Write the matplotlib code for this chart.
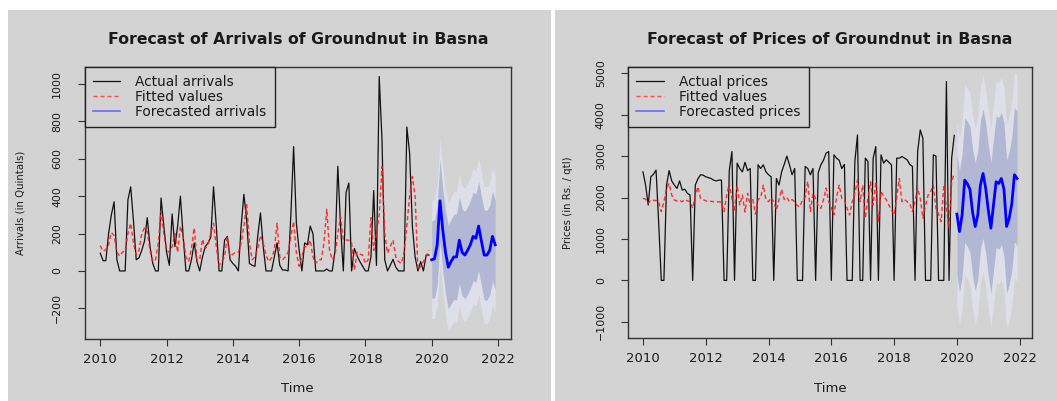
import numpy as np
import matplotlib
matplotlib.use("Agg")
import matplotlib.pyplot as plt
from matplotlib.lines import Line2D
from matplotlib.patches import Rectangle

# ---------------- data ----------------
years = [2010, 2012, 2014, 2016, 2018, 2020, 2022]

arr_actual = [95, 55, 55, 200, 300, 370, 60, 0, 0, 0, 380, 450,
              270, 60, 70, 110, 160, 285, 130, 40, 0, 0, 390, 240,
              100, 30, 305, 130, 240, 400, 185, 0, 0, 60, 150, 50,
              0, 75, 130, 150, 180, 450, 240, 0, 0, 165, 185, 60,
              40, 25, 0, 240, 410, 270, 40, 30, 25, 185, 310, 130,
              0, 0, 0, 75, 150, 30, 5, 5, 0, 300, 665, 255,
              110, 0, 150, 140, 240, 200, 0, 0, 0, 0, 10, 0,
              0, 110, 560, 240, 0, 420, 470, 0, 120, 80, 50, 25,
              0, 0, 75, 430, 30, 1040, 700, 60, 0, 30, 62, 20,
              0, 0, 0, 770, 630, 240, 75, 0, 50, 0, 85, 85]
arr_fitted = [135, 105, 115, 140, 205, 190, 100, 80, 100, 110, 200, 255,
              150, 85, 110, 200, 230, 210, 110, 50, 60, 150, 320, 200,
              110, 100, 130, 200, 100, 240, 180, 75, 50, 120, 230, 60,
              60, 170, 120, 140, 200, 255, 130, 30, 50, 75, 185, 75,
              90, 100, 100, 150, 240, 355, 150, 60, 75, 120, 190, 150,
              85, 50, 70, 110, 255, 75, 60, 75, 100, 185, 265, 95,
              25, 80, 130, 130, 165, 75, 40, 60, 60, 150, 330, 110,
              60, 85, 200, 290, 165, 165, 165, 150, 5, 100, 90, 85,
              40, 60, 285, 110, 200, 300, 560, 200, 95, 130, 165, 75,
              50, 40, 100, 240, 400, 505, 400, 5, 25, 50, 80, 110]
arr_forecast = [60, 65, 140, 375, 220, 100, 20, 50, 75, 75, 165, 100,
                85, 110, 140, 185, 175, 240, 160, 85, 85, 110, 185, 140]
arr_hw80 = [205, 210, 215, 218, 220, 222, 224, 226, 228, 230, 231, 232,
            233, 234, 235, 236, 237, 238, 239, 240, 240, 240, 240, 240]
arr_hw95 = [314, 321, 329, 334, 337, 340, 343, 346, 349, 352, 353, 355,
            357, 358, 360, 361, 363, 364, 366, 367, 367, 367, 367, 367]

price_actual = [2620, 2300, 1820, 2500, 2560, 2660, 1400, 0, 0, 2300, 2650, 2400,
                2300, 2220, 2400, 2180, 2200, 2100, 2060, 0, 2300, 2450, 2550, 2540,
                2500, 2480, 2460, 2420, 2400, 2420, 2420, 0, 0, 2650, 3110, 0,
                2830, 2700, 2620, 2850, 2650, 2700, 0, 0, 2790, 2700, 2790, 2620,
                2550, 2500, 0, 2460, 2300, 2620, 2800, 3000, 2790, 2550, 2700, 0,
                0, 0, 2750, 2700, 2550, 2700, 0, 2600, 2790, 2900, 3070, 3110,
                0, 3030, 2950, 2900, 2700, 2800, 0, 0, 0, 2870, 3510, 0,
                0, 2950, 2870, 0, 2950, 3230, 0, 3030, 2830, 2910, 2850, 2790,
                0, 2950, 2950, 2990, 2950, 2910, 2800, 2750, 0, 3110, 3630, 3430,
                0, 0, 0, 3030, 3000, 0, 0, 0, 4800, 0, 2950, 3500]
price_fitted = [1980, 1960, 1860, 1940, 1930, 1930, 1900, 1660, 1900, 2220, 2340, 2060,
                1940, 1920, 1930, 1900, 1950, 1920, 1900, 1740, 2030, 2260, 1980, 1950,
                1920, 1900, 1910, 1900, 1890, 1900, 1880, 1660, 2060, 2340, 1980, 1700,
                2300, 1820, 2060, 1650, 2100, 1800, 1950, 1600, 1950, 2000, 2300, 1950,
                1900, 2000, 1900, 1700, 1950, 2200, 1950, 2000, 1900, 1950, 1900, 1800,
                1780, 1950, 2000, 2390, 1660, 2100, 1980, 1800, 1740, 1950, 2230, 1900,
                1750, 1580, 2000, 2300, 1980, 1950, 1740, 1580, 1900, 2100, 2420, 1900,
                2300, 1500, 2000, 2380, 1820, 2380, 1420, 2150, 2020, 1950, 1820, 1700,
                1580, 2000, 2460, 1900, 1950, 1900, 1850, 1660, 1900, 2230, 1980, 1500,
                1800, 2060, 2150, 2300, 1740, 1600, 1420, 2300, 1740, 1260, 2380, 2590]
price_forecast = [1600, 1180, 1580, 2420, 2330, 2200, 1650, 1300, 1580, 2300, 2580, 2230,
                  1700, 1260, 1820, 2380, 2340, 2460, 2200, 1300, 1500, 1850, 2550, 2460]
price_hw80 = [1450, 1470, 1490, 1500, 1510, 1520, 1530, 1540, 1550, 1555, 1560, 1565,
              1570, 1575, 1580, 1585, 1590, 1595, 1600, 1605, 1610, 1615, 1620, 1625]
price_hw95 = [2220, 2250, 2280, 2300, 2310, 2330, 2340, 2360, 2370, 2380, 2390, 2400,
              2400, 2410, 2420, 2430, 2430, 2440, 2450, 2460, 2460, 2470, 2480, 2490]

arr_yticks = [-200, 0, 200, 400, 600, 800, 1000]
price_yticks = [-1000, 0, 1000, 2000, 3000, 4000, 5000]

# ---------------- style ----------------
W, H = 1057, 401
BG = "#d3d3d3"
BAND80 = "#b2b7d4"
BAND95 = "#dedfe8"
TXT = "#1a1a1a"

fig = plt.figure(figsize=(W / 100, H / 100), dpi=100, facecolor="white")


def fx(px):
    return px / W


def fy(py):
    return 1 - py / H


fig.patches.append(Rectangle((fx(8), 0), fx(551) - fx(8), fy(10), transform=fig.transFigure,
                             facecolor=BG, edgecolor="none", zorder=-10))
fig.patches.append(Rectangle((fx(555), 0), fx(1057) - fx(555), fy(10), transform=fig.transFigure,
                             facecolor=BG, edgecolor="none", zorder=-10))

t_hist = 2010 + np.arange(len(arr_actual)) / 12
t_fc = 2020 + np.arange(len(arr_forecast)) / 12


def panel(box, actual, fitted, fc, hw80, hw95, ylim, yticks, title, ylab, labels, ylab_x, ytl_pad):
    x0, y0, x1, y1 = box
    ax = fig.add_axes([fx(x0), fy(y1), fx(x1) - fx(x0), fy(y0) - fy(y1)])
    ax.set_facecolor(BG)
    fc = np.array(fc, float)
    hw80 = np.array(hw80, float)
    hw95 = np.array(hw95, float)
    ax.fill_between(t_fc, fc - hw95, fc + hw95, color=BAND95, lw=0, zorder=1)
    ax.fill_between(t_fc, fc - hw80, fc + hw80, color=BAND80, lw=0, zorder=2)
    ax.plot(t_hist, actual, color="#111111", lw=0.9, zorder=3)
    ax.plot(t_hist, fitted, color="#ff1a1a", lw=1.0, dashes=(3, 2), alpha=0.9, zorder=4)
    ax.plot(t_fc, fc, color="#0000ff", lw=2.0, zorder=5)
    ax.set_xlim(2009.523, 2022.393)
    ax.set_ylim(*ylim)
    ax.set_xticks(years)
    ax.set_yticks(yticks)
    for s in ax.spines.values():
        s.set_color("#333333")
        s.set_linewidth(1.0)
    ax.tick_params(axis="both", direction="out", length=5, width=0.8, color="#333333",
                   labelcolor=TXT)
    ax.tick_params(axis="x", labelsize=9.5, pad=5)
    ax.tick_params(axis="y", labelsize=7.9, pad=ytl_pad, labelrotation=90)
    for lab in ax.get_yticklabels():
        lab.set_va("center")
    cx = (x0 + x1) / 2
    fig.text(fx(cx), fy(39), title, ha="center", va="center", fontsize=11.3,
             fontweight="bold", color=TXT)
    fig.text(fx(cx), fy(388), "Time", ha="center", va="center", fontsize=9.5, color=TXT)
    fig.text(fx(ylab_x), fy((y0 + y1) / 2), ylab, ha="center", va="center", rotation=90,
             fontsize=7.3, color=TXT)
    handles = [Line2D([], [], color="#111111", lw=0.9),
               Line2D([], [], color="#ff4d4d", lw=1.0, dashes=(3, 2)),
               Line2D([], [], color="#6a6aff", lw=1.2)]
    leg = ax.legend(handles, labels, loc="upper left", bbox_to_anchor=(0, 1),
                    borderaxespad=0, fontsize=9.9, frameon=True, fancybox=False,
                    facecolor=BG, edgecolor="#222222", framealpha=1,
                    handlelength=2.0, handletextpad=1.1, labelspacing=0.07,
                    borderpad=0.6)
    leg.get_frame().set_linewidth(1.0)
    for txt in leg.get_texts():
        txt.set_color(TXT)
    leg.set_zorder(10)
    return ax


panel((84.5, 67, 511, 339), arr_actual, arr_fitted, arr_forecast, arr_hw80, arr_hw95,
      (-364, 1091), arr_yticks, "Forecast of Arrivals of Groundnut in Basna",
      "Arrivals (in Quintals)",
      ["Actual arrivals", "Fitted values", "Forecasted arrivals"], 21, 11)

panel((628, 67, 1032, 338), price_actual, price_fitted, price_forecast, price_hw80, price_hw95,
      (-1390, 5150), price_yticks, "Forecast of Prices of Groundnut in Basna",
      "Prices (in Rs. / qtl)",
      ["Actual prices", "Fitted values", "Forecasted prices"], 568, 11)

fig.savefig("out.png", dpi=100, facecolor="white")
